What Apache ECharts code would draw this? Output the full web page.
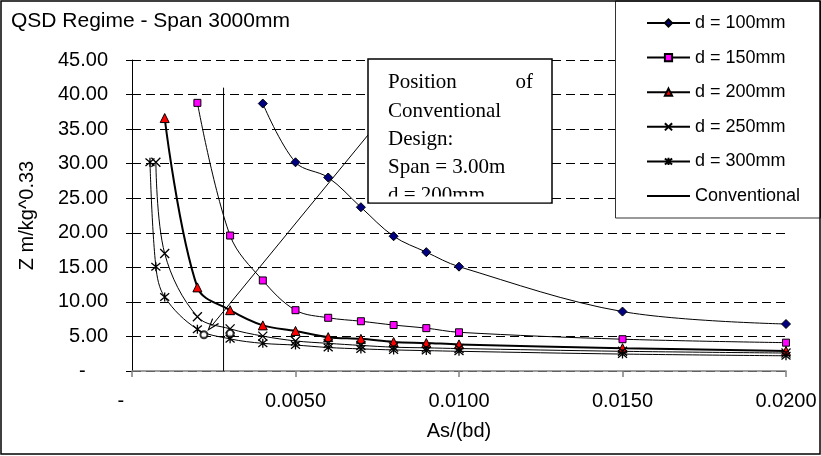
<!DOCTYPE html>
<html>
<head>
<meta charset="utf-8">
<script src="https://cdn.jsdelivr.net/npm/echarts@6/dist/echarts.min.js"></script>
<style>
html,body{margin:0;padding:0;background:#fff;}
#chart{width:821px;height:456px;}
</style>
</head>
<body>
<div id="chart"></div>
<script>
// ---- data ----
const seriesNames = ['d = 100mm', 'd = 150mm', 'd = 200mm', 'd = 250mm', 'd = 300mm', 'Conventional'];

const d100X = [0.004, 0.005, 0.006, 0.007, 0.008, 0.009, 0.010, 0.015, 0.020];
const d100Y = [38.7, 30.2, 28.0, 23.7, 19.5, 17.2, 15.1, 8.6, 6.8];

const d150X = [0.002, 0.003, 0.004, 0.005, 0.006, 0.007, 0.008, 0.009, 0.010, 0.015, 0.020];
const d150Y = [38.8, 19.6, 13.1, 8.8, 7.7, 7.2, 6.65, 6.2, 5.6, 4.6, 4.1];

const d200X = [0.001, 0.002, 0.003, 0.004, 0.005, 0.006, 0.007, 0.008, 0.009, 0.010, 0.015, 0.020];
const d200Y = [36.6, 12.1, 8.8, 6.6, 5.8, 4.9, 4.65, 4.2, 4.05, 3.85, 3.3, 2.9];

const d250X = [0.00073, 0.001, 0.002, 0.003, 0.004, 0.005, 0.006, 0.007, 0.008, 0.009, 0.010, 0.015, 0.020];
const d250Y = [30.2, 17.0, 7.85, 6.1, 5.05, 4.35, 4.0, 3.7, 3.45, 3.35, 3.25, 2.85, 2.6];

const d300X = [0.00055, 0.00073, 0.001, 0.002, 0.003, 0.004, 0.005, 0.006, 0.007, 0.008, 0.009, 0.010, 0.015, 0.020];
const d300Y = [30.2, 15.1, 10.7, 6.05, 4.65, 4.0, 3.75, 3.4, 3.2, 3.05, 2.95, 2.85, 2.45, 2.2];

const conventionalX = [0.0028, 0.0028];
const conventionalY = [0, 41];

const conventionalPointsX = [0.0022, 0.0030];
const conventionalPointsY = [5.25, 5.45];

// annotation arrow (data space): tail at the text box, head at the design point
const annotationArrow = [[0.0074, 35.2], [0.00243, 6.5]];

const annotationLines = ['Position', 'of', 'Conventional', 'Design:', 'Span = 3.00m', 'd = 200mm'];

const xTicks = [0, 0.005, 0.010, 0.015, 0.020];
const yTicks = [0, 5, 10, 15, 20, 25, 30, 35, 40, 45];

// ---- build ----
function zip(xs, ys) { return xs.map((x, i) => [x, ys[i]]); }

const SANS = 'Liberation Sans, Arial, sans-serif';
const SERIF = 'Liberation Serif, Times New Roman, serif';
const crossPath = 'path://M0,0 L10,10 M10,0 L0,10';
const starPath = 'path://M0,0 L10,10 M10,0 L0,10 M5,-1 L5,11';
const arrowPath = 'path://M0,14 L5,0 L10,14 L8.6,14 L5,3.6 L1.4,14 Z';

const chart = echarts.init(document.getElementById('chart'), null, {renderer: 'canvas'});

function lineSeries(name, data, symbol, size, fill, width, extra) {
  return Object.assign({
    name: name,
    type: 'line',
    data: data,
    smooth: 0.35,
    symbol: symbol,
    symbolSize: size,
    showAllSymbol: true,
    lineStyle: {color: '#000', width: width},
    itemStyle: {color: fill, borderColor: '#000', borderWidth: 1},
    emphasis: {disabled: true},
    z: 3
  }, extra || {});
}

const legendData = seriesNames.map((n, i) => i === seriesNames.length - 1
  ? {name: n, itemStyle: {color: 'rgba(0,0,0,0)', borderColor: 'rgba(0,0,0,0)', borderWidth: 0}}
  : {name: n});

const option = {
  animation: false,
  backgroundColor: '#fff',
  title: {
    text: 'QSD Regime - Span 3000mm',
    left: 11, top: 11, padding: 0,
    textStyle: {fontFamily: SANS, fontSize: 21, fontWeight: 'normal', color: '#000'}
  },
  grid: {left: 132, right: 35, top: 60, bottom: 85, containLabel: false},
  xAxis: {
    type: 'value',
    min: xTicks[0], max: xTicks[xTicks.length - 1], interval: xTicks[1] - xTicks[0],
    name: 'As/(bd)', nameLocation: 'middle', nameGap: 50,
    nameTextStyle: {fontFamily: SANS, fontSize: 20, color: '#000'},
    axisLine: {show: true, onZero: false, lineStyle: {color: '#808080', width: 1.5}},
    axisTick: {show: true, length: 6, lineStyle: {color: '#808080', width: 1.5}},
    axisLabel: {
      margin: 20, fontFamily: SANS, fontSize: 20, color: '#000',
      formatter: v => (Math.abs(v) < 1e-12 ? '-    ' : v.toFixed(4))
    },
    splitLine: {show: false}
  },
  yAxis: {
    type: 'value',
    min: yTicks[0], max: yTicks[yTicks.length - 1], interval: yTicks[1] - yTicks[0],
    name: 'Z m/kg^0.33', nameLocation: 'middle', nameGap: 95,
    nameTextStyle: {fontFamily: SANS, fontSize: 20, color: '#000'},
    axisLine: {show: true, lineStyle: {color: '#000', width: 1}},
    axisTick: {show: true, length: 6, lineStyle: {color: '#000', width: 1}},
    axisLabel: {
      margin: 24, fontFamily: SANS, fontSize: 20, color: '#000',
      formatter: v => (v === 0 ? '-    ' : v.toFixed(2))
    },
    splitLine: {show: true, lineStyle: {color: '#000', width: 1, type: [9, 5]}}
  },
  legend: {
    data: legendData,
    orient: 'vertical',
    left: 641, top: 8,
    itemWidth: 43, itemHeight: 9, itemGap: 14.6,
    selectedMode: false,
    textStyle: {fontFamily: SANS, fontSize: 18, lineHeight: 20, color: '#000'},
    z: 20
  },
  series: [
    lineSeries(seriesNames[0], zip(d100X, d100Y), 'diamond', 9, '#000080', 1),
    lineSeries(seriesNames[1], zip(d150X, d150Y), 'rect', 7, '#FF00FF', 1),
    lineSeries(seriesNames[2], zip(d200X, d200Y), 'triangle', 9, '#FF0000', 2),
    lineSeries(seriesNames[3], zip(d250X, d250Y), crossPath, 9, '#000', 1,
      {itemStyle: {color: '#000', borderColor: '#000', borderWidth: 1.3}}),
    lineSeries(seriesNames[4], zip(d300X, d300Y), starPath, 9, '#000', 1,
      {itemStyle: {color: '#000', borderColor: '#000', borderWidth: 1.3}}),
    {
      name: seriesNames[5], type: 'line', data: zip(conventionalX, conventionalY),
      symbol: 'none', smooth: false,
      lineStyle: {color: '#000', width: 1}, itemStyle: {color: '#000'},
      emphasis: {disabled: true}, z: 3
    },
    {
      name: 'conventionalPoints', type: 'scatter', data: zip(conventionalPointsX, conventionalPointsY),
      symbol: 'emptyCircle', symbolSize: 7,
      itemStyle: {color: '#000', borderColor: '#000', borderWidth: 1.2},
      emphasis: {disabled: true}, z: 4,
      markLine: {
        silent: true, animation: false,
        symbol: ['none', arrowPath], symbolSize: [9, 13],
        label: {show: false},
        lineStyle: {color: '#000', width: 1, type: 'solid'},
        data: [[{coord: annotationArrow[0]}, {coord: annotationArrow[1]}]]
      }
    }
  ],
  graphic: {
    elements: [
      // outer chart frame
      {type: 'rect', z: 50, silent: true,
        shape: {x: 1, y: 1, width: 819, height: 453},
        style: {fill: 'none', stroke: '#000', lineWidth: 1.5}},
      // legend frame
      {type: 'rect', z: 1, silent: true,
        shape: {x: 615.5, y: 1, width: 205, height: 217},
        style: {fill: '#fff', stroke: '#333', lineWidth: 1}},
      // annotation box
      {type: 'rect', z: 30, silent: true,
        shape: {x: 368, y: 59, width: 184, height: 144},
        style: {fill: '#fff', stroke: '#000', lineWidth: 1.5}},
      {type: 'text', z: 31, silent: true, x: 388, y: 82,
        style: {text: annotationLines[0], font: '21px ' + SERIF, fill: '#000', textVerticalAlign: 'middle'}},
      {type: 'text', z: 31, silent: true, x: 533, y: 82,
        style: {text: annotationLines[1], font: '21px ' + SERIF, fill: '#000', textAlign: 'right', textVerticalAlign: 'middle'}},
      {type: 'text', z: 31, silent: true, x: 388, y: 111,
        style: {text: annotationLines[2], font: '21px ' + SERIF, fill: '#000', textVerticalAlign: 'middle'}},
      {type: 'text', z: 31, silent: true, x: 388, y: 139,
        style: {text: annotationLines[3], font: '21px ' + SERIF, fill: '#000', textVerticalAlign: 'middle'}},
      {type: 'text', z: 31, silent: true, x: 388, y: 167,
        style: {text: annotationLines[4], font: '21px ' + SERIF, fill: '#000', textVerticalAlign: 'middle'}},
      {type: 'text', z: 31, silent: true, x: 388, y: 195,
        style: {text: annotationLines[5], font: '21px ' + SERIF, fill: '#000', textVerticalAlign: 'middle'}},
      // clip the last, overflowing line of the text box
      {type: 'rect', z: 32, silent: true,
        shape: {x: 369.5, y: 196.5, width: 181, height: 5.8},
        style: {fill: '#fff', stroke: 'none'}}
    ]
  }
};

chart.setOption(option);
</script>
</body>
</html>
